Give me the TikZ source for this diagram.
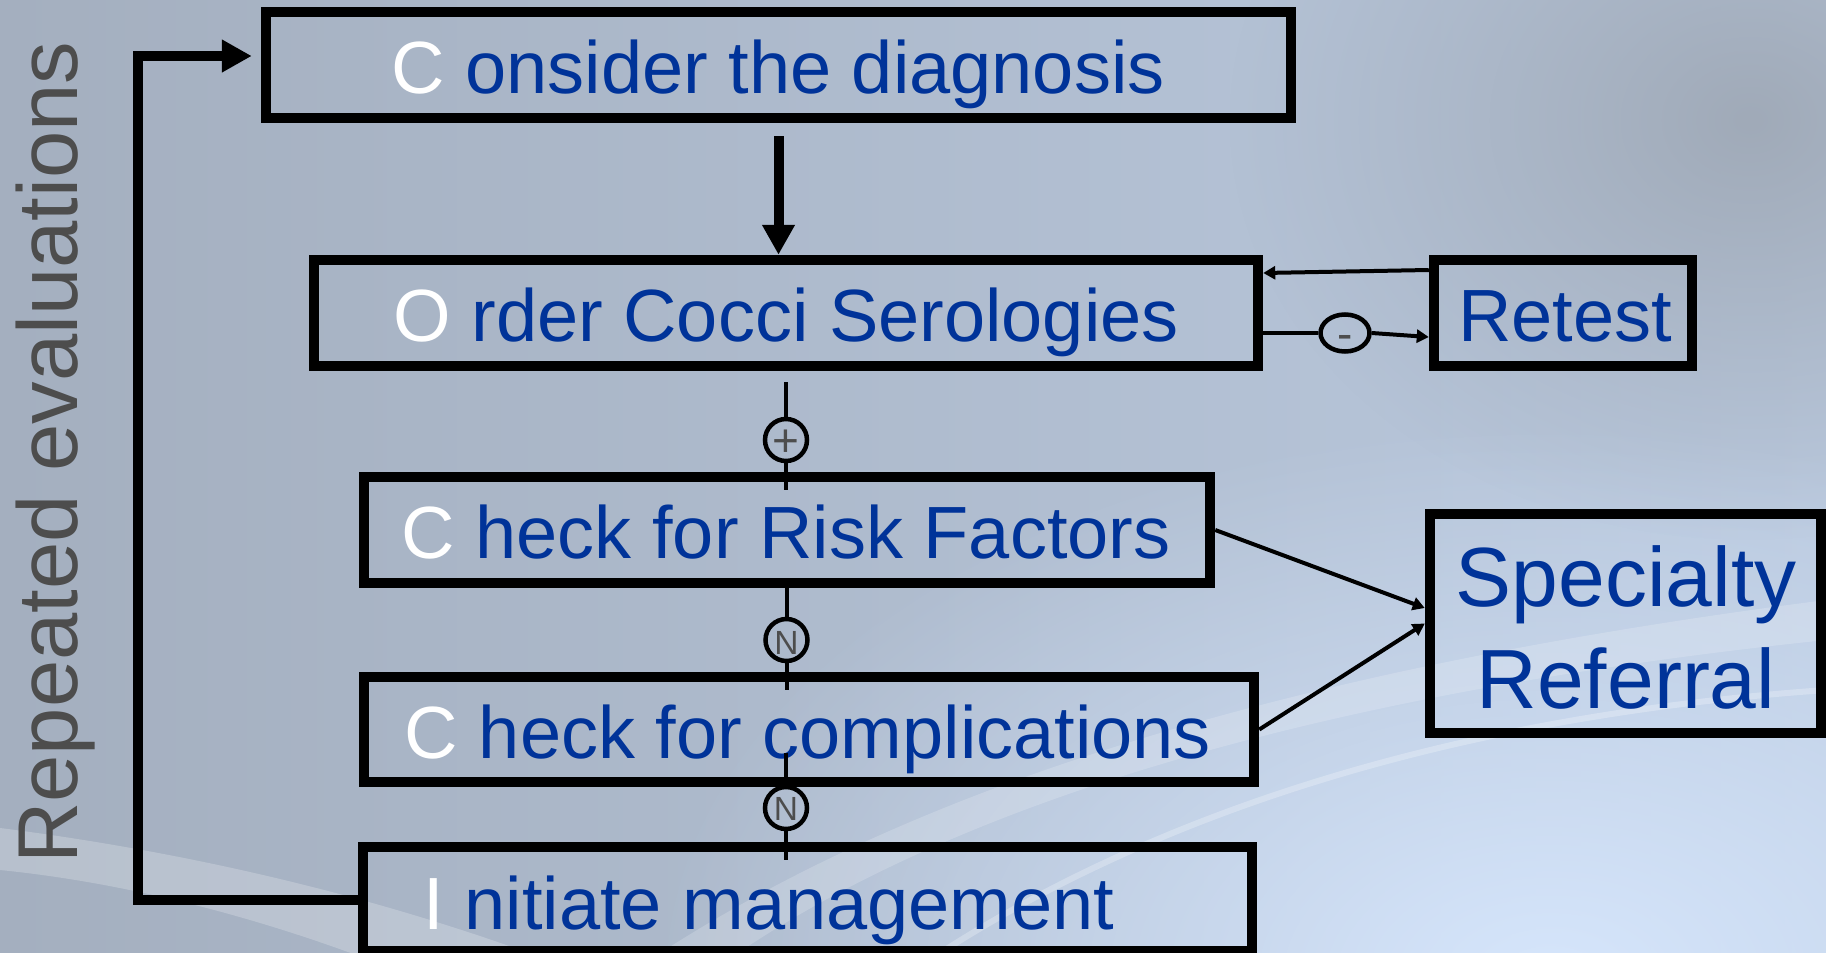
\documentclass[tikz,border=0pt]{standalone}
\usepackage{fontspec}
\setmainfont{Liberation Sans}
\usetikzlibrary{arrows.meta,shapes.geometric,calc,fadings}
\definecolor{txtblue}{RGB}{0,51,153}
\definecolor{markgray}{RGB}{77,77,77}
\definecolor{bgA}{RGB}{164,175,191}
\definecolor{bgB}{RGB}{186,201,222}
\definecolor{bgL}{RGB}{214,230,252}
\definecolor{bgG}{RGB}{160,170,184}
\tikzfading[name=softrad, inner color=transparent!0, outer color=transparent!100]
\newcommand{\wl}[1]{\textcolor{white}{#1}}
\begin{document}
\begin{tikzpicture}[x=1pt,y=-1pt,
  box/.style={draw=black, line width=10.5pt, rectangle, inner sep=0pt},
  lbl/.style={inner sep=0pt, anchor=base, text=txtblue, font=\fontsize{74}{80}\selectfont},
  biglbl/.style={inner sep=0pt, anchor=base, text=txtblue, font=\fontsize{84}{90}\selectfont},
  circ/.style={draw=black, circle, line width=4.5pt, minimum size=42pt, inner sep=0pt},
  oval/.style={draw=black, ellipse, line width=4.5pt, minimum width=49pt, minimum height=37pt, inner sep=0pt},
  sign/.style={inner sep=0pt, anchor=base, text=markgray},
  thickline/.style={draw=black, line width=10pt},
  thickarrow/.style={draw=black, line width=10pt, -{Triangle[length=30pt,width=31pt]}},
  thinline/.style={draw=black, line width=4pt},
  thinarrow/.style={draw=black, line width=4pt, -{Triangle[length=12pt,width=13pt]}}
]
\useasboundingbox (0,0) rectangle (1826,953);
% background
\shade[left color=bgA, right color=bgB] (0,0) rectangle (1826,953);
\fill[bgL, path fading=softrad] (1550,980) ellipse (900 and 560);
\fill[bgG, path fading=softrad] (1750,120) ellipse (520 and 420);
\begin{scope}
\clip (0,0) rectangle (1826,953);
\fill[white, opacity=0.22] (0,828) .. controls (250,860) and (450,920) .. (600,980) -- (420,980) .. controls (300,930) and (150,885) .. (0,870) -- cycle;
\fill[white, opacity=0.18] (620,980) .. controls (850,820) and (1200,680) .. (1826,600) -- (1826,640) .. controls (1250,700) and (900,830) .. (700,980) -- cycle;
\draw[white, opacity=0.25, line width=6pt] (900,980) .. controls (1100,840) and (1400,720) .. (1826,690);
\end{scope}

% boxes
\node[box, minimum width=1025pt, minimum height=106pt] (consider) at (778.5,65) {};
\node[box, minimum width=944pt, minimum height=106pt] (order) at (786,313) {};
\node[box, minimum width=258pt, minimum height=106pt] (retest) at (1563,313) {};
\node[box, minimum width=846pt, minimum height=106pt] (risk) at (787,530) {};
\node[box, minimum width=890pt, minimum height=105pt] (compl) at (809,729.5) {};
\node[box, minimum width=889pt, minimum height=104pt] (init) at (807.5,899) {};
\node[box, minimum width=391pt, minimum height=219pt] (spec) at (1625.5,623.5) {};

% texts
\node[lbl] (consider-t) at (778,93) {\wl{C} onsider the diagnosis};
\node[lbl] (order-t) at (786,341) {\wl{O} rder Cocci Serologies};
\node[lbl] (retest-t) at (1565,341) {Retest};
\node[lbl] (risk-t) at (786,558) {\wl{C} heck for Risk Factors};
\node[lbl] (compl-t) at (808,758) {\wl{C} heck for complications};
\node[lbl] (init-t) at (769,929) {\wl{I} nitiate management};
\node[biglbl] (spec-t1) at (1626,606) {Specialty};
\node[biglbl] (spec-t2) at (1626,708) {Referral};
\node[rotate=90, anchor=base west, inner sep=0pt, text=markgray, font=\fontsize{85}{90}\selectfont] (rep) at (77,864) {Repeated evaluations};

% connector markers
\node[circ] (plus) at (786,440) {};
\node[sign, font=\fontsize{46}{50}\selectfont] (plus-t) at (786,456) {+};
\node[circ] (n1) at (786.5,640) {};
\node[sign, font=\fontsize{33.5}{36}\selectfont] (n1-t) at (786.5,654) {N};
\node[circ] (n2) at (786,808) {};
\node[sign, font=\fontsize{33.5}{36}\selectfont] (n2-t) at (786,820) {N};
\node[oval] (minus) at (1345,333) {};
\node[sign, font=\fontsize{46}{50}\selectfont] (minus-t) at (1345,349) {-};

% loop connector
\coordinate (loopbot) at (138,900);
\coordinate (looptop) at (138,56);
\draw[thickarrow, line join=miter] (init.west |- loopbot) -- (loopbot) -- (looptop) -- ($(consider.west |- looptop)+(-9,0)$);

% consider -> order
\draw[thickarrow, shorten <=13pt] (consider.south) -- (consider.south |- order.north);

% order <-> retest
\draw[thinarrow] ($(retest.west)+(0,-43)$) -- ($(order.east)+(0,-40)$);
\draw[thinline] ($(order.east)+(-10,20)$) -- (minus.west);
\draw[thinarrow] (minus.east) -- ($(retest.west)+(0,24)$);

% order -> risk via plus
\draw[thinline, shorten <=11pt] (order.south -| plus) -- (plus.north);
\draw[thinline, shorten >=-18pt] (plus.south) -- (risk.north -| plus);
% risk -> compl via N
\draw[thinline, shorten <=-5pt] (risk.south -| n1) -- (n1.north);
\draw[thinline, shorten >=-18pt] (n1.south) -- (compl.north -| n1);
% compl -> init via N
\draw[thinline] ($(compl.south -| n2)+(0,-34)$) -- (n2.north);
\draw[thinline, shorten >=-18pt] (n2.south) -- (init.north -| n2);

% to specialty referral
\draw[thinarrow] (risk.east) -- ($(spec.west)+(0,-15.5)$);
\draw[thinarrow] (compl.east) -- (spec.west);
\end{tikzpicture}
\end{document}
